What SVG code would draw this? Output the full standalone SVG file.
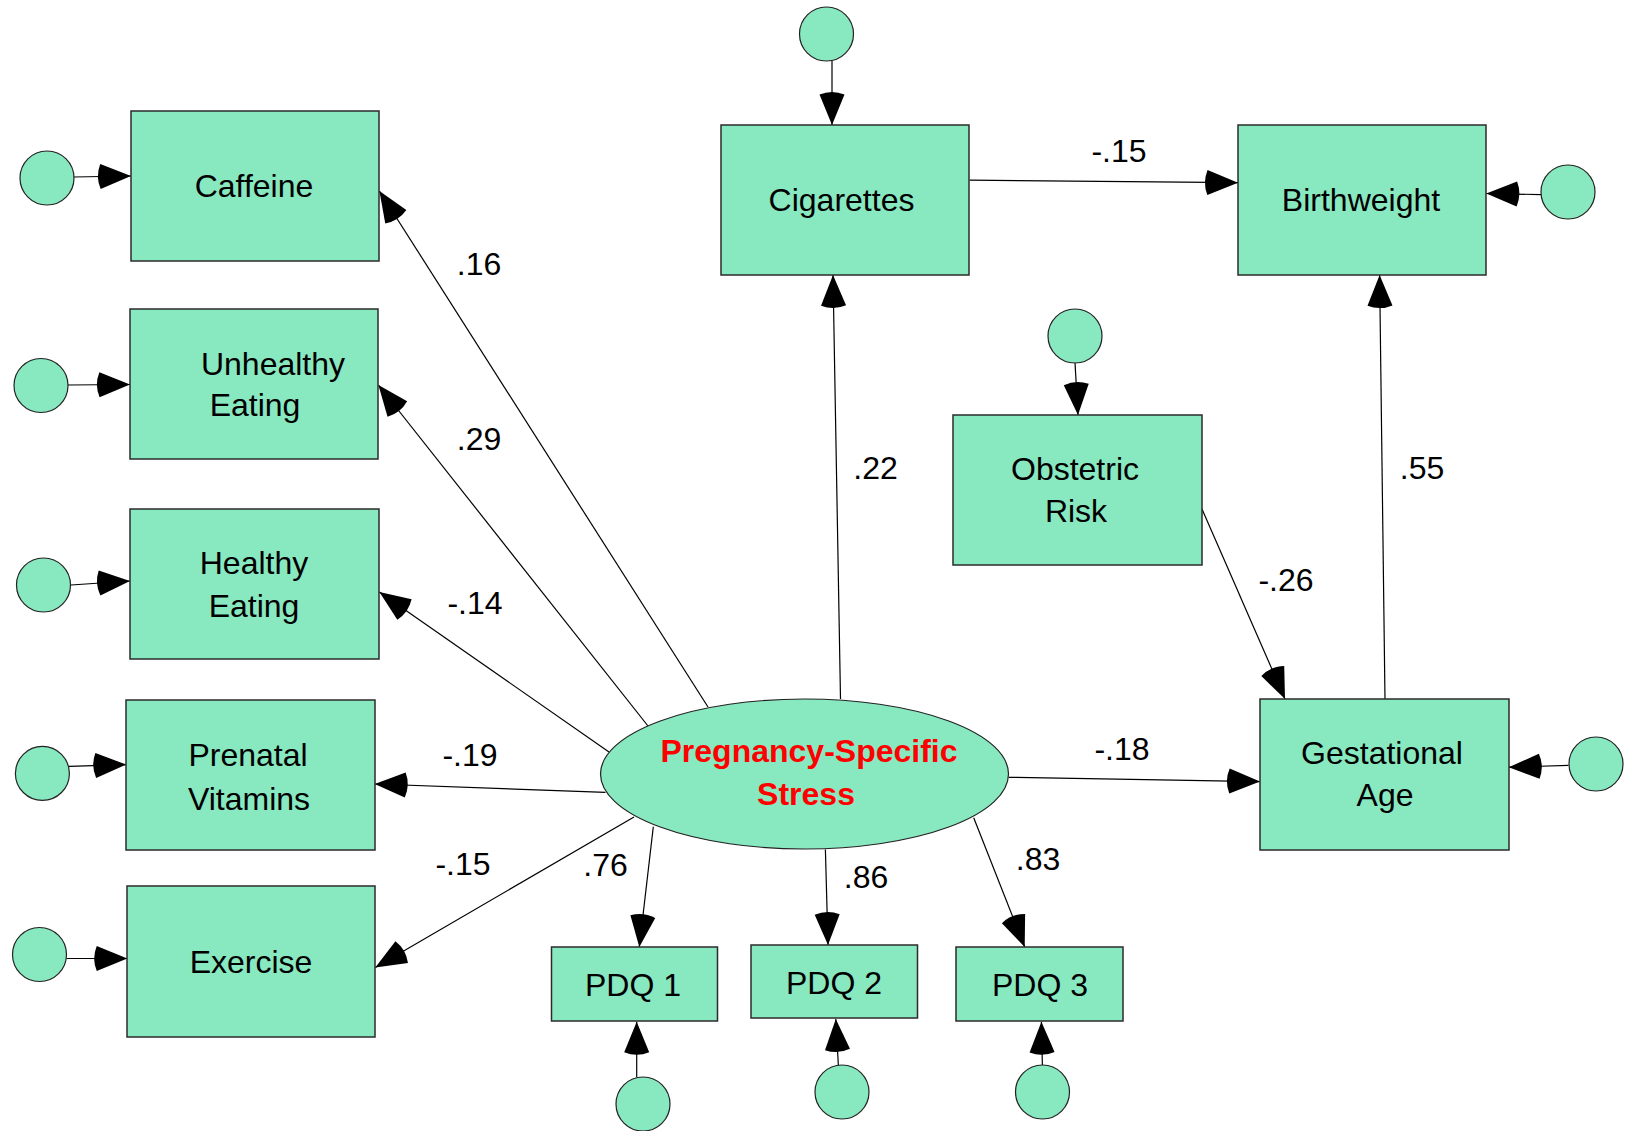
<svg xmlns="http://www.w3.org/2000/svg" width="1631" height="1131" viewBox="0 0 1631 1131">
<style>
.box{fill:#88E8C0;stroke:#2b2b2b;stroke-width:1.5}
.err{fill:#88E8C0;stroke:#222;stroke-width:1.2}
.lat{fill:#88E8C0;stroke:#222;stroke-width:1.2}
.t{font-family:"Liberation Sans",Arial,sans-serif;font-size:32px;fill:#000;text-anchor:middle}
.lt{font-family:"Liberation Sans",Arial,sans-serif;font-size:32px;font-weight:bold;fill:#FF0000;text-anchor:middle}
.c line{stroke:#000;stroke-width:1.2;marker-end:url(#ah)}
</style>
<defs>
<marker id="ah" markerUnits="userSpaceOnUse" orient="auto" refX="33" refY="12.5" markerWidth="40" markerHeight="30" overflow="visible">
<path d="M33,12.5 L2.46,0 A33,33 0 0,0 2.46,25 Z" fill="#000"/>
</marker>
</defs>
<rect width="1631" height="1131" fill="#fff"/>
<g class="c" id="connectors">
<line x1="73.5" y1="177" x2="131" y2="176"/>
<line x1="68" y1="385" x2="130" y2="384.5"/>
<line x1="71" y1="585" x2="130" y2="581"/>
<line x1="69" y1="766.4" x2="126.3" y2="764.6"/>
<line x1="66.5" y1="958.5" x2="127.3" y2="958.5"/>
<line x1="832" y1="61" x2="832" y2="125"/>
<line x1="1541" y1="194.6" x2="1486.3" y2="193.5"/>
<line x1="1075" y1="362.5" x2="1078" y2="415"/>
<line x1="1568.5" y1="765.4" x2="1508.7" y2="767.2"/>
<line x1="636.7" y1="1077" x2="636.7" y2="1021.7"/>
<line x1="838.4" y1="1066" x2="835.8" y2="1019"/>
<line x1="1042.4" y1="1066" x2="1041.4" y2="1021.7"/>
<line x1="708" y1="707" x2="379.4" y2="191"/>
<line x1="648" y1="726" x2="378.4" y2="385"/>
<line x1="609" y1="752" x2="379.4" y2="592"/>
<line x1="605.5" y1="792.4" x2="374.7" y2="784"/>
<line x1="634" y1="817" x2="375.3" y2="967.5"/>
<line x1="653.3" y1="826.7" x2="639.3" y2="947"/>
<line x1="825.4" y1="849.5" x2="828" y2="945"/>
<line x1="973.7" y1="817.7" x2="1024.7" y2="947"/>
<line x1="1008.6" y1="777.3" x2="1260" y2="781.6"/>
<line x1="840.5" y1="699" x2="833" y2="275"/>
<line x1="969.6" y1="180.2" x2="1238" y2="182.7"/>
<line x1="1202" y1="509" x2="1285" y2="699"/>
<line x1="1385" y1="699" x2="1379.6" y2="275"/>
</g>
<g id="labels">
<text class="t" x="479" y="275">.16</text>
<text class="t" x="479" y="450">.29</text>
<text class="t" x="475" y="614">-.14</text>
<text class="t" x="470" y="766">-.19</text>
<text class="t" x="463" y="875">-.15</text>
<text class="t" x="605.5" y="876">.76</text>
<text class="t" x="866" y="888">.86</text>
<text class="t" x="1038" y="870">.83</text>
<text class="t" x="1122" y="760">-.18</text>
<text class="t" x="875.5" y="479">.22</text>
<text class="t" x="1119" y="162">-.15</text>
<text class="t" x="1286" y="591">-.26</text>
<text class="t" x="1422" y="479">.55</text>
</g>
<g id="caffeine"><rect class="box" x="131" y="111" width="248" height="150"/><text class="t" x="254" y="197">Caffeine</text></g>
<g id="unhealthy"><rect class="box" x="130" y="309" width="248" height="150"/><text class="t" x="273" y="375">Unhealthy</text><text class="t" x="255" y="416">Eating</text></g>
<g id="healthy"><rect class="box" x="130" y="509" width="249" height="150"/><text class="t" x="254" y="574">Healthy</text><text class="t" x="254" y="617">Eating</text></g>
<g id="prenatal"><rect class="box" x="126" y="700" width="249" height="150"/><text class="t" x="248" y="766">Prenatal</text><text class="t" x="249" y="810">Vitamins</text></g>
<g id="exercise"><rect class="box" x="127" y="886" width="248" height="151"/><text class="t" x="251" y="973">Exercise</text></g>
<g id="cigarettes"><rect class="box" x="721" y="125" width="248" height="150"/><text class="t" x="841.5" y="211">Cigarettes</text></g>
<g id="birthweight"><rect class="box" x="1238" y="125" width="248" height="150"/><text class="t" x="1361" y="211">Birthweight</text></g>
<g id="obstetric"><rect class="box" x="953" y="415" width="249" height="150"/><text class="t" x="1075" y="480">Obstetric</text><text class="t" x="1076" y="522">Risk</text></g>
<g id="gestational"><rect class="box" x="1260" y="699" width="249" height="151"/><text class="t" x="1382" y="764">Gestational</text><text class="t" x="1385" y="806">Age</text></g>
<g id="pdq1"><rect class="box" x="551.5" y="947" width="166" height="74"/><text class="t" x="633" y="996">PDQ 1</text></g>
<g id="pdq2"><rect class="box" x="751" y="945" width="166.5" height="73"/><text class="t" x="834" y="994">PDQ 2</text></g>
<g id="pdq3"><rect class="box" x="956" y="947" width="167" height="74"/><text class="t" x="1040" y="996">PDQ 3</text></g>
<g id="stress"><ellipse class="lat" cx="804.5" cy="774" rx="204" ry="75"/><text class="lt" x="809" y="762">Pregnancy-Specific</text><text class="lt" x="806" y="805">Stress</text></g>
<g id="e_caffeine"><circle class="err" cx="47" cy="178" r="27"/></g>
<g id="e_unhealthy"><circle class="err" cx="41" cy="385.5" r="27"/></g>
<g id="e_healthy"><circle class="err" cx="43.5" cy="585" r="27"/></g>
<g id="e_prenatal"><circle class="err" cx="42.4" cy="773.4" r="27"/></g>
<g id="e_exercise"><circle class="err" cx="39.5" cy="954.5" r="27"/></g>
<g id="e_cigarettes"><circle class="err" cx="826.5" cy="34" r="27"/></g>
<g id="e_birthweight"><circle class="err" cx="1568" cy="192" r="27"/></g>
<g id="e_obstetric"><circle class="err" cx="1075" cy="336" r="27"/></g>
<g id="e_gestational"><circle class="err" cx="1596" cy="764" r="27"/></g>
<g id="e_pdq1"><circle class="err" cx="643" cy="1104" r="27"/></g>
<g id="e_pdq2"><circle class="err" cx="842" cy="1092" r="27"/></g>
<g id="e_pdq3"><circle class="err" cx="1042.5" cy="1092" r="27"/></g>
</svg>
